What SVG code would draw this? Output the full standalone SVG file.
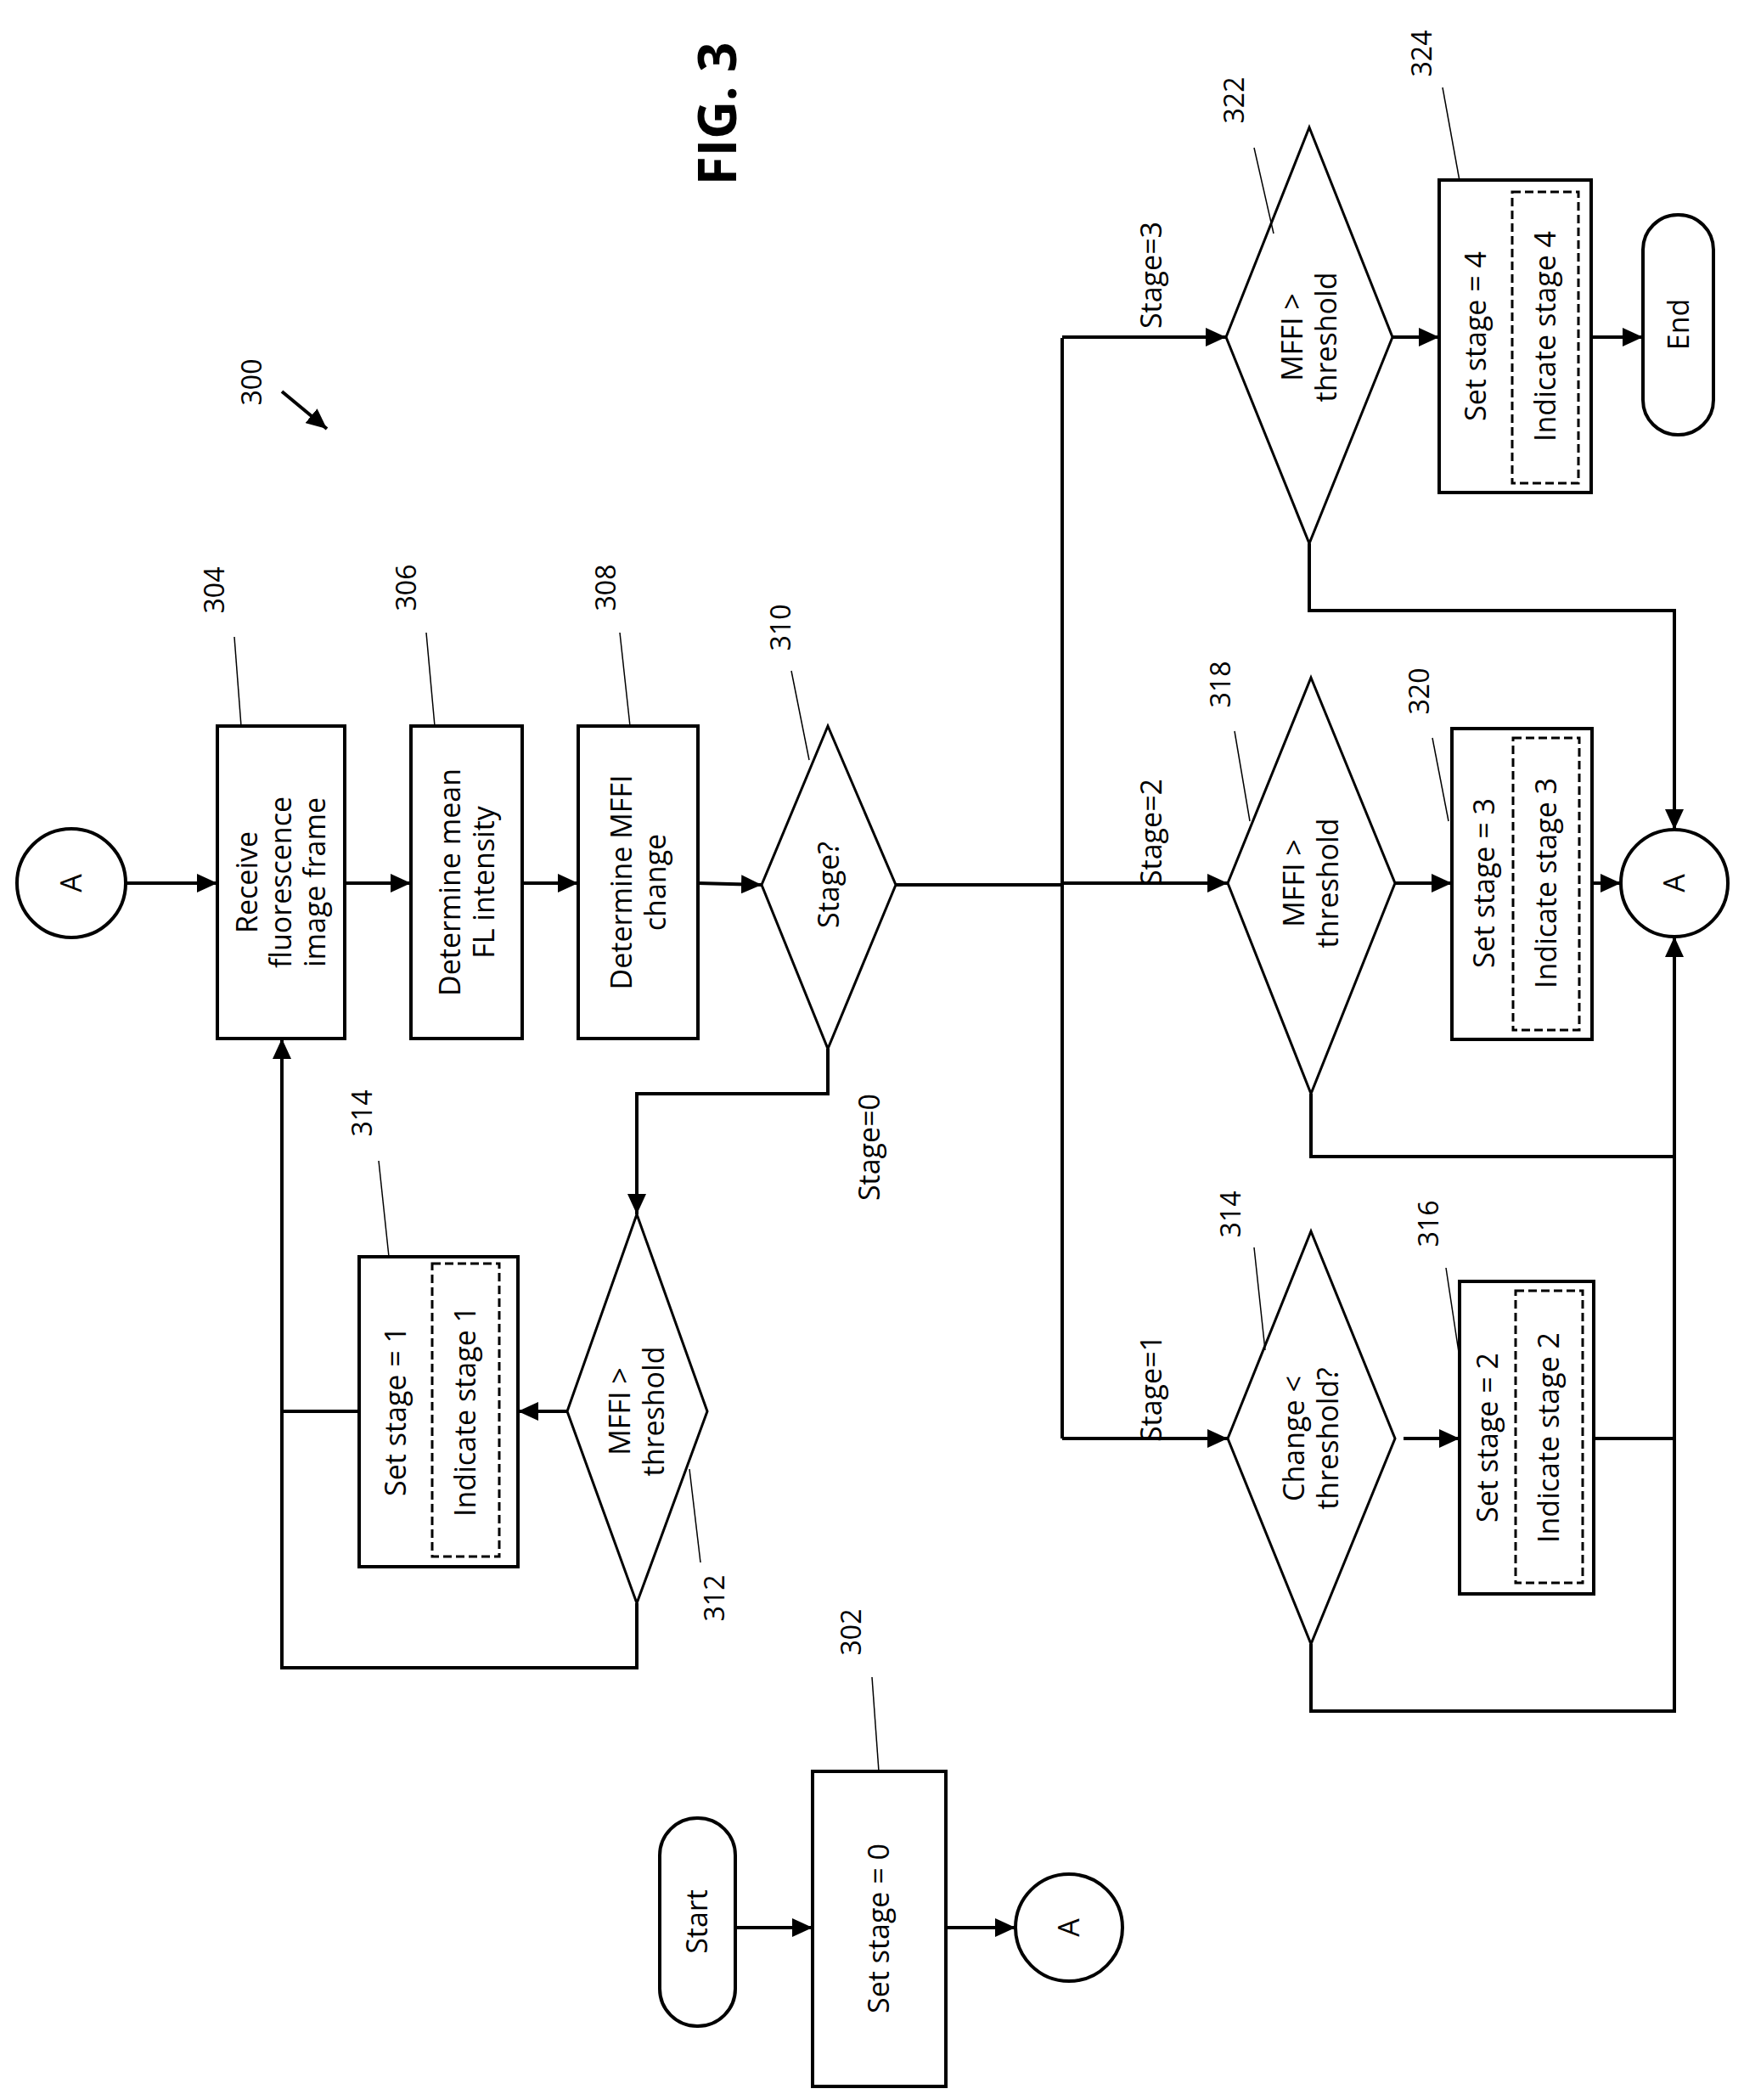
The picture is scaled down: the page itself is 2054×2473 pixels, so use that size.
<svg xmlns="http://www.w3.org/2000/svg" width="2054" height="2473" viewBox="0 0 2054 2473">
<style>
.b{fill:#fff;stroke:#000;stroke-width:4}
.d{fill:#fff;stroke:#000;stroke-width:3}
.ds{fill:none;stroke:#000;stroke-width:3;stroke-dasharray:10 5}
.c{fill:none;stroke:#000;stroke-width:4}
.l{fill:none;stroke:#000;stroke-width:1.5}
text{font-family:"Open Sans","DejaVu Sans",sans-serif;font-size:34px;text-anchor:middle;fill:#000}
.n{font-size:32px}
</style>
<defs>
<marker id="a" markerWidth="24" markerHeight="22" refX="24" refY="11" orient="auto" markerUnits="userSpaceOnUse"><path d="M0,0 L24,11 L0,22 z" fill="#000"/></marker>
</defs>
<text transform="translate(845,134) rotate(-90)" y="22" style="font-size:62px;font-weight:bold">FIG. 3</text>
<g id="label300"><text class="n" transform="translate(297,450) rotate(-90)" y="11">300</text><path d="M332,461 L385,505" class="c" marker-end="url(#a)"/></g>

<g id="start"><rect x="777" y="2141" width="89" height="245" rx="44" class="b"/><text transform="translate(821,2263) rotate(-90)" y="12">Start</text></g>
<g id="n302"><rect x="957" y="2086" width="157" height="371" class="b"/><text transform="translate(1035,2271) rotate(-90)" y="12">Set stage = 0</text><text class="n" transform="translate(1003,1922) rotate(-90)" y="11">302</text><path class="l" d="M1027,1975 L1035,2086"/></g>
<g id="a1"><circle cx="1259" cy="2270" r="63" class="b"/><text transform="translate(1259,2270) rotate(-90)" y="12">A</text></g>

<g id="a0"><circle cx="84" cy="1040" r="64" class="b"/><text transform="translate(84,1040) rotate(-90)" y="12">A</text></g>
<g id="n304"><rect x="256" y="855" width="150" height="368" class="b"/><text transform="translate(331,1039) rotate(-90)"><tspan x="0" y="-28">Receive</tspan><tspan x="0" y="12">fluorescence</tspan><tspan x="0" y="52">image frame</tspan></text><text class="n" transform="translate(253,695) rotate(-90)" y="11">304</text><path class="l" d="M276,750 L284,855"/></g>
<g id="n306"><rect x="484" y="855" width="131" height="368" class="b"/><text transform="translate(550,1039) rotate(-90)"><tspan x="0" y="-8">Determine mean</tspan><tspan x="0" y="32">FL intensity</tspan></text><text class="n" transform="translate(479,692) rotate(-90)" y="11">306</text><path class="l" d="M502,745 L512,855"/></g>
<g id="n308"><rect x="681" y="855" width="141" height="368" class="b"/><text transform="translate(752,1039) rotate(-90)"><tspan x="0" y="-8">Determine MFFI</tspan><tspan x="0" y="32">change</tspan></text><text class="n" transform="translate(714,692) rotate(-90)" y="11">308</text><path class="l" d="M730,745 L742,855"/></g>
<g id="n310"><polygon points="975,855 1055,1042 975,1235 897,1042" class="d"/><text transform="translate(976,1042) rotate(-90)" y="12">Stage?</text><text class="n" transform="translate(920,739) rotate(-90)" y="11">310</text><path class="l" d="M932,790 L953,895"/></g>

<g id="n312"><polygon points="750,1430 833,1662 750,1888 668,1662" class="d"/><text transform="translate(750,1662) rotate(-90)"><tspan x="0" y="-8">MFFI &gt;</tspan><tspan x="0" y="32">threshold</tspan></text><text class="n" transform="translate(842,1882) rotate(-90)" y="11">312</text><path class="l" d="M812,1730 L825,1840"/></g>
<g id="n314a"><rect x="423" y="1480" width="187" height="365" class="b"/><rect x="509" y="1488" width="79" height="345" class="ds"/><text transform="translate(466,1662) rotate(-90)" y="12">Set stage = 1</text><text transform="translate(548,1662) rotate(-90)" y="12">Indicate stage 1</text><text class="n" transform="translate(427,1311) rotate(-90)" y="11">314</text><path class="l" d="M446,1367 L458,1480"/></g>

<g id="n314b"><polygon points="1544,1450 1643,1694 1544,1936 1446,1694" class="d"/><text transform="translate(1544,1694) rotate(-90)"><tspan x="0" y="-8">Change &lt;</tspan><tspan x="0" y="32">threshold?</tspan></text><text class="n" transform="translate(1450,1430) rotate(-90)" y="11">314</text><path class="l" d="M1477,1469 L1490,1590"/></g>
<g id="n316"><rect x="1719" y="1509" width="158" height="368" class="b"/><rect x="1785" y="1520" width="79" height="344" class="ds"/><text transform="translate(1752,1693) rotate(-90)" y="12">Set stage = 2</text><text transform="translate(1824,1693) rotate(-90)" y="12">Indicate stage 2</text><text class="n" transform="translate(1683,1441) rotate(-90)" y="11">316</text><path class="l" d="M1703,1493 L1719,1599"/></g>

<g id="n318"><polygon points="1544,798 1643,1040 1544,1288 1446,1040" class="d"/><text transform="translate(1544,1040) rotate(-90)"><tspan x="0" y="-8">MFFI &gt;</tspan><tspan x="0" y="32">threshold</tspan></text><text class="n" transform="translate(1438,806) rotate(-90)" y="11">318</text><path class="l" d="M1454,861 L1472,967"/></g>
<g id="n320"><rect x="1710" y="858" width="165" height="366" class="b"/><rect x="1782" y="869" width="78" height="344" class="ds"/><text transform="translate(1748,1040) rotate(-90)" y="12">Set stage = 3</text><text transform="translate(1821,1040) rotate(-90)" y="12">Indicate stage 3</text><text class="n" transform="translate(1672,814) rotate(-90)" y="11">320</text><path class="l" d="M1687,869 L1706,967"/></g>
<g id="a2"><circle cx="1972" cy="1040" r="63" class="b"/><text transform="translate(1972,1040) rotate(-90)" y="12">A</text></g>

<g id="n322"><polygon points="1542,150 1640,397 1542,640 1444,397" class="d"/><text transform="translate(1542,397) rotate(-90)"><tspan x="0" y="-8">MFFI &gt;</tspan><tspan x="0" y="32">threshold</tspan></text><text class="n" transform="translate(1454,118) rotate(-90)" y="11">322</text><path class="l" d="M1477,174 L1500,275"/></g>
<g id="n324"><rect x="1695" y="212" width="179" height="368" class="b"/><rect x="1781" y="226" width="78" height="343" class="ds"/><text transform="translate(1738,396) rotate(-90)" y="12">Set stage = 4</text><text transform="translate(1820,396) rotate(-90)" y="12">Indicate stage 4</text><text class="n" transform="translate(1675,63) rotate(-90)" y="11">324</text><path class="l" d="M1699,103 L1719,213"/></g>
<g id="end"><rect x="1935" y="253" width="83" height="259" rx="41" class="b"/><text transform="translate(1977,382) rotate(-90)" y="12">End</text></g>

<g id="connectors">
<path class="c" d="M866,2270 L957,2270" marker-end="url(#a)"/>
<path class="c" d="M1114,2270 L1196,2270" marker-end="url(#a)"/>
<path class="c" d="M148,1040 L256,1040" marker-end="url(#a)"/>
<path class="c" d="M406,1040 L484,1040" marker-end="url(#a)"/>
<path class="c" d="M615,1040 L681,1040" marker-end="url(#a)"/>
<path class="c" d="M822,1040 L897,1042" marker-end="url(#a)"/>
<path class="c" d="M1055,1042 L1251,1042"/>
<path class="c" d="M1251,398 L1251,1694"/>
<path class="c" d="M1251,397 L1444,397" marker-end="url(#a)"/>
<path class="c" d="M1251,1040 L1446,1040" marker-end="url(#a)"/>
<path class="c" d="M1251,1694 L1446,1694" marker-end="url(#a)"/>
<path class="c" d="M1640,397 L1695,397" marker-end="url(#a)"/>
<path class="c" d="M1874,397 L1935,397" marker-end="url(#a)"/>
<path class="c" d="M1542,640 L1542,719 L1972,719 L1972,977" marker-end="url(#a)"/>
<path class="c" d="M1643,1040 L1710,1040" marker-end="url(#a)"/>
<path class="c" d="M1875,1040 L1909,1040" marker-end="url(#a)"/>
<path class="c" d="M1544,1288 L1544,1362 L1972,1362"/>
<path class="c" d="M1653,1694 L1719,1694" marker-end="url(#a)"/>
<path class="c" d="M1877,1694 L1972,1694"/>
<path class="c" d="M1544,1936 L1544,2015 L1972,2015 L1972,1103" marker-end="url(#a)"/>
<path class="c" d="M975,1235 L975,1288 L750,1288 L750,1430" marker-end="url(#a)"/>
<path class="c" d="M668,1662 L610,1662" marker-end="url(#a)"/>
<path class="c" d="M423,1662 L332,1662"/>
<path class="c" d="M750,1888 L750,1964 L332,1964 L332,1223" marker-end="url(#a)"/>
<text transform="translate(1356,324) rotate(-90)" y="12">Stage=3</text>
<text transform="translate(1356,980) rotate(-90)" y="12">Stage=2</text>
<text transform="translate(1356,1635) rotate(-90)" y="12">Stage=1</text>
<text transform="translate(1024,1351) rotate(-90)" y="12">Stage=0</text>
</g>
</svg>
